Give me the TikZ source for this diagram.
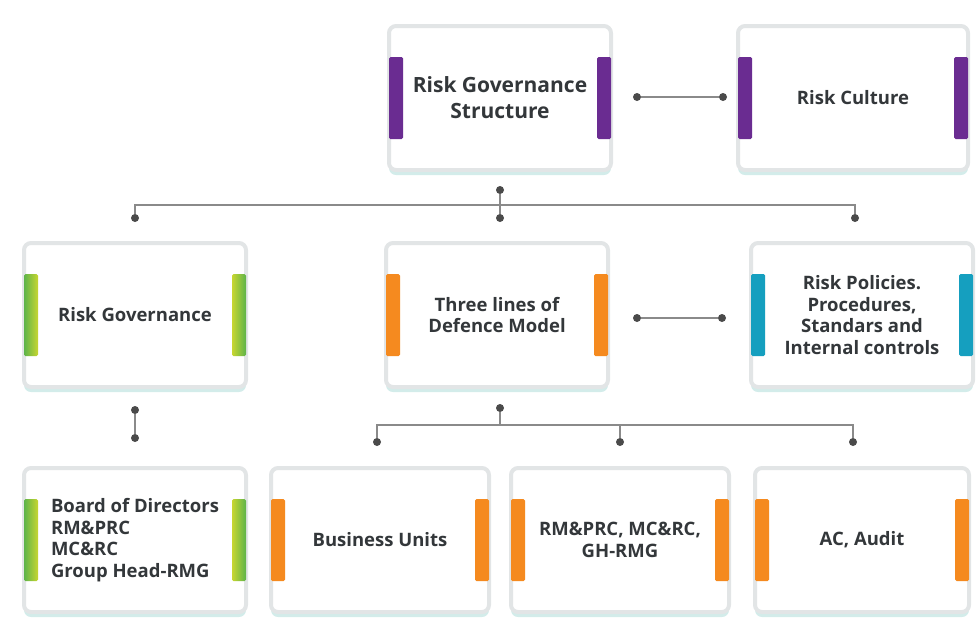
\documentclass[tikz,border=0pt]{standalone}
\usepackage{fontspec}
\setmainfont{Open Sans}
\usetikzlibrary{calc,positioning}
\definecolor{rgText}{HTML}{33373A}
\definecolor{rgLine}{HTML}{8A8A8A}
\definecolor{rgDot}{HTML}{4A4A4A}
\definecolor{rgCard}{HTML}{E2E5E6}
\definecolor{rgShade}{HTML}{D3ECEA}
\definecolor{rgPurple}{HTML}{6A2C91}
\definecolor{rgOrange}{HTML}{F58A1F}
\definecolor{rgTeal}{HTML}{159FBF}
\definecolor{rgGreen}{HTML}{5DB44A}
\definecolor{rgLime}{HTML}{C8D630}
\newcommand{\cardbars}[3]{%
  \path[bar,#2] ($(#1.west)+(2,-41)$) rectangle ($(#1.west)+(16,41)$);
  \path[bar,#3] ($(#1.east)+(-16,-41)$) rectangle ($(#1.east)+(-2,41)$);}
\begin{document}
\begin{tikzpicture}[x=1pt,y=-1pt,
  card/.style={draw=rgCard,line width=4pt,fill=white,rounded corners=7pt,
               minimum width=222pt,minimum height=144pt,
               preaction={fill=rgShade,transform canvas={yshift=-5pt}},
               font=\fontsize{18.5}{21.5}\selectfont\bfseries,text=rgText,align=center},
  bar/.style={rounded corners=1.5pt},
  barP/.style={fill=rgPurple},
  barO/.style={fill=rgOrange},
  barT/.style={fill=rgTeal},
  barGL/.style={left color=rgGreen,right color=rgLime},
  barGR/.style={left color=rgLime,right color=rgGreen},
  dot/.style={circle,fill=rgDot,inner sep=0pt,minimum size=8pt},
  link/.style={draw=rgLine,line width=1.2pt}]
  \useasboundingbox (0,0) rectangle (979,633);
  % cards
  \node[card,font=\fontsize{21}{26}\selectfont\bfseries] (rgs) at (500,98) {Risk Governance\\Structure};
  \node[card,minimum width=230pt] (cult) at (853,98) {Risk Culture};
  \node[card] (gov)  at (135,315) {Risk Governance};
  \node[card] (tlod) at (497,315) {Three lines of\\Defence Model};
  \node[card] (pol)  at (862,315) {Risk Policies.\\Procedures,\\Standars and\\Internal controls};
  \node[card,align=left] (bod)  at (135,540) {Board of Directors\\RM\&PRC\\MC\&RC\\Group Head-RMG};
  \node[card,minimum width=218pt] (bu)   at (380,540) {Business Units};
  \node[card,minimum width=218pt] (rmg)  at (620,540) {RM\&PRC, MC\&RC,\\GH-RMG};
  \node[card,minimum width=214pt] (aud)  at (862,540) {AC, Audit};
  \cardbars{rgs}{barP}{barP}
  \cardbars{cult}{barP}{barP}
  \cardbars{gov}{barGL}{barGR}
  \cardbars{tlod}{barO}{barO}
  \cardbars{pol}{barT}{barT}
  \cardbars{bod}{barGL}{barGR}
  \cardbars{bu}{barO}{barO}
  \cardbars{rmg}{barO}{barO}
  \cardbars{aud}{barO}{barO}
  % side links
  \node[dot] (c1) at (637,97) {};  \node[dot] (c2) at (723,97) {};
  \draw[link] (c1) -- (c2);
  \node[dot] (p1) at (637,318) {}; \node[dot] (p2) at (722,318) {};
  \draw[link] (p1) -- (p2);
  % top tree
  \node[dot] (t0) at (500,190) {};
  \node[dot] (tl) at (135,218) {};
  \node[dot] (tm) at (500,218) {};
  \node[dot] (tr) at (855,218) {};
  \coordinate (tj) at (500,205);
  \draw[link] (t0) -- (tm);
  \draw[link] (tl) |- (tj) -| (tr);
  % governance to board
  \node[dot] (g1) at (135,410) {}; \node[dot] (g2) at (135,438) {};
  \draw[link] (g1) -- (g2);
  % bottom tree
  \node[dot] (b0) at (500,408) {};
  \node[dot] (bl) at (377,442) {};
  \node[dot] (bm) at (620,442) {};
  \node[dot] (br) at (853,442) {};
  \coordinate (bj) at (500,425);
  \draw[link] (b0) -- (bj);
  \draw[link] (bl) |- (bj) -| (br);
  \draw[link] (bm) -- (bm |- bj);
\end{tikzpicture}
\end{document}
